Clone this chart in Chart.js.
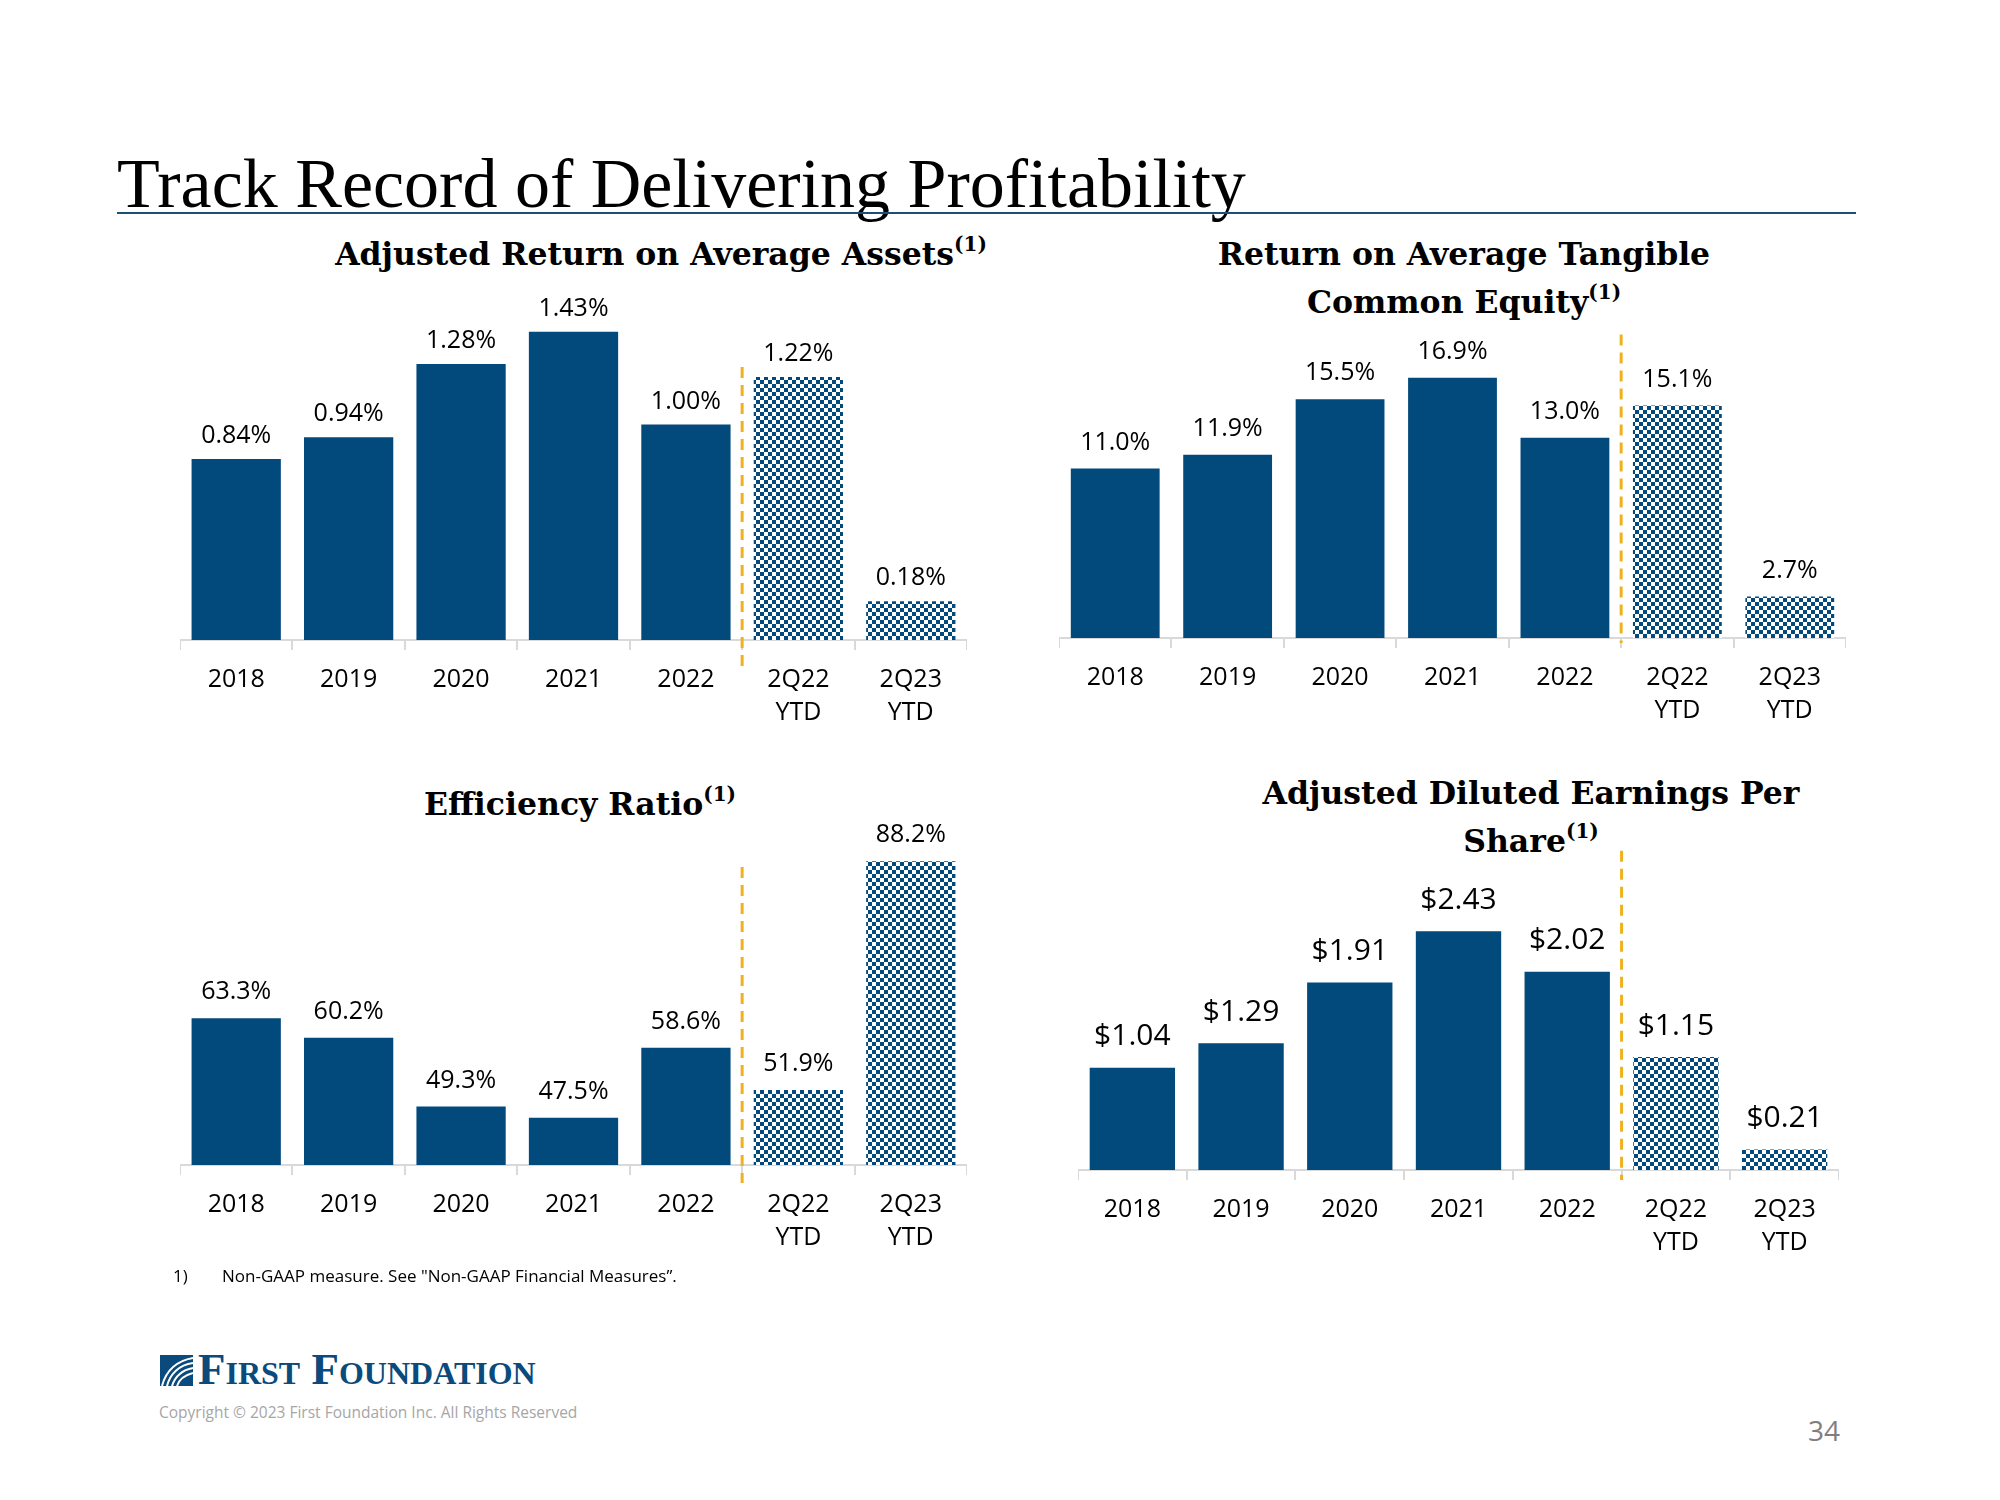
<!DOCTYPE html>
<html>
<head>
<meta charset="utf-8">
<script src="https://cdn.jsdelivr.net/npm/chart.js@4.4.0/dist/chart.umd.min.js"></script>
<style>
  body { margin: 0; width: 2000px; height: 1500px; background: #fff; position: relative; overflow: hidden; font-family: "Open Sans", sans-serif; }
  .abs { position: absolute; }
  .main-title { left: 117px; top: 149px; font-family: "Liberation Serif", serif; font-size: 70px; line-height: 70px; color: #000; white-space: nowrap; }
  .rule { left: 117px; top: 212px; width: 1739px; height: 2px; background: #1c4f73; }
  .sub { font-family: "DejaVu Serif", serif; font-weight: bold; font-size: 31.5px; line-height: 48px; color: #000; text-align: center; white-space: nowrap; transform: translateX(-50%); }
  .sub sup { font-size: 20px; vertical-align: 14px; line-height: 0; }
  canvas { position: absolute; }
  .foot { font-size: 17px; color: #000; }
  .copy { font-size: 15.5px; color: #a6a6a6; }
  .page { font-size: 28px; color: #7f7f7f; }
  .logo { font-family: "Liberation Serif", serif; font-weight: bold; font-size: 45px; color: #0a4a7c; font-variant: small-caps; white-space: nowrap; }
</style>
</head>
<body>
<div class="abs main-title">Track Record of Delivering Profitability</div>
<div class="abs rule"></div>

<div class="abs sub" style="left:661px; top:230px;">Adjusted Return on Average Assets<sup>(1)</sup></div>
<div class="abs sub" style="left:1464px; top:230px;">Return on Average Tangible<br>Common Equity<sup>(1)</sup></div>
<div class="abs sub" style="left:580px; top:780px;">Efficiency Ratio<sup>(1)</sup></div>
<div class="abs sub" style="left:1531px; top:769px;">Adjusted Diluted Earnings Per<br>Share<sup>(1)</sup></div>

<canvas id="roaa"></canvas>
<canvas id="rotce"></canvas>
<canvas id="eff"></canvas>
<canvas id="eps"></canvas>

<div class="abs foot" style="left:173px; top:1264px;">1)</div>
<div class="abs foot" style="left:222px; top:1264px;">Non-GAAP measure. See "Non-GAAP Financial Measures”.</div>

<svg class="abs" style="left:160px; top:1355px;" width="33" height="31" viewBox="0 0 33 31">
  <rect x="0" y="0" width="33" height="31" fill="#0a4a7c"/>
  <path d="M2 31 C6 16 16 6 33 3" stroke="#fff" stroke-width="2" fill="none"/>
  <path d="M7 31 C10 19 19 10 33 8" stroke="#fff" stroke-width="2" fill="none"/>
  <path d="M12 31 C15 22 22 15 33 13" stroke="#fff" stroke-width="2" fill="none"/>
  <path d="M17 31 C19 25 25 20 33 18" stroke="#fff" stroke-width="2" fill="none"/>
</svg>
<div class="abs logo" style="left:198px; top:1343px;">First Foundation</div>
<div class="abs copy" style="left:159px; top:1401px;">Copyright © 2023 First Foundation Inc. All Rights Reserved</div>
<div class="abs page" style="left:1808px; top:1411px;">34</div>

<script>
// categorias y valores
const categories = [['2018'], ['2019'], ['2020'], ['2021'], ['2022'], ['2Q22', 'YTD'], ['2Q23', 'YTD']];
const roaaValues = [0.84, 0.94, 1.28, 1.43, 1.00, 1.22, 0.18];
const rotceValues = [11.0, 11.9, 15.5, 16.9, 13.0, 15.1, 2.7];
const efficiencyValues = [63.3, 60.2, 49.3, 47.5, 58.6, 51.9, 88.2];
const epsValues = [1.04, 1.29, 1.91, 2.43, 2.02, 1.15, 0.21];

const navy = '#034a7c';
const amber = '#f0b21c';

function checker() {
  const c = document.createElement('canvas');
  c.width = 8; c.height = 8;
  const g = c.getContext('2d');
  g.fillStyle = '#fff'; g.fillRect(0, 0, 8, 8);
  g.fillStyle = navy;
  g.fillRect(0, 0, 4, 4);
  g.fillRect(4, 4, 4, 4);
  return g.createPattern(c, 'repeat');
}

const valueLabels = {
  id: 'valueLabels',
  afterDatasetsDraw(chart, args, opts) {
    const ctx = chart.ctx;
    const meta = chart.getDatasetMeta(0);
    const vals = chart.data.datasets[0].data;
    ctx.save();
    ctx.font = opts.font;
    ctx.fillStyle = '#000';
    ctx.textAlign = 'center';
    ctx.textBaseline = 'middle';
    meta.data.forEach((bar, i) => {
      ctx.fillText(opts.format(vals[i]), bar.x, bar.y - opts.offset);
    });
    ctx.restore();
  }
};

const divider = {
  id: 'divider',
  afterDraw(chart, args, opts) {
    const meta = chart.getDatasetMeta(0);
    const x = (meta.data[4].x + meta.data[5].x) / 2;
    const y1 = chart.scales.y.getPixelForValue(opts.top);
    const y2 = chart.chartArea.bottom + opts.extend;
    const ctx = chart.ctx;
    ctx.save();
    ctx.strokeStyle = amber;
    ctx.lineWidth = 3;
    ctx.setLineDash([11, 7]);
    ctx.beginPath();
    ctx.moveTo(x, y1);
    ctx.lineTo(x, y2);
    ctx.stroke();
    ctx.restore();
  }
};

function makeChart(id, values, box, yMin, yMax, fmt, labelFont, labelOffset, divTop, divExtend, barPct) {
  const cv = document.getElementById(id);
  cv.style.left = box.left + 'px';
  cv.style.top = box.top + 'px';
  cv.width = box.width;
  cv.height = box.height;
  const pat = checker();
  const colors = values.map((v, i) => i < 5 ? navy : pat);
  return new Chart(cv.getContext('2d'), {
    type: 'bar',
    data: {
      labels: categories,
      datasets: [{ data: values, backgroundColor: colors, barPercentage: barPct, categoryPercentage: 1 }]
    },
    options: {
      responsive: false,
      animation: false,
      layout: { padding: { top: 40, left: 0, right: 0, bottom: 0 } },
      plugins: {
        legend: { display: false },
        tooltip: { enabled: false },
        valueLabels: { format: fmt, font: labelFont, offset: labelOffset },
        divider: { top: divTop, extend: divExtend }
      },
      scales: {
        x: {
          grid: { offset: true, drawOnChartArea: false, drawTicks: true, tickLength: 10, color: '#d9d9d9', lineWidth: 2 },
          border: { color: '#d9d9d9', width: 2 },
          ticks: { color: '#000', font: { family: 'Open Sans', size: 25, lineHeight: 1.32 }, padding: 13, maxRotation: 0, autoSkip: false },
          afterFit(scale) { scale.height = 100; }
        },
        y: { display: false, min: yMin, max: yMax }
      }
    },
    plugins: [valueLabels, divider]
  });
}

const pct2 = v => v.toFixed(2) + '%';
const pct1 = v => v.toFixed(1) + '%';
const usd = v => '$' + v.toFixed(2);

makeChart('roaa', roaaValues, { left: 180, top: 240, width: 787, height: 500 }, 0, 1.67, pct2, '25px "Open Sans"', 23, 1.266, 33, 0.794);
makeChart('rotce', rotceValues, { left: 1059, top: 290, width: 787, height: 448 }, 0, 20.0, pct1, '25px "Open Sans"', 26, 19.7, 5, 0.79);
makeChart('eff', efficiencyValues, { left: 180, top: 790, width: 787, height: 475 }, 40, 93.17, pct1, '25px "Open Sans"', 26, 87.3, 18, 0.794);
makeChart('eps', epsValues, { left: 1078, top: 830, width: 761, height: 440 }, 0, 3.055, usd, '30px "Open Sans"', 31, 3.25, 10, 0.785);
</script>
</body>
</html>
